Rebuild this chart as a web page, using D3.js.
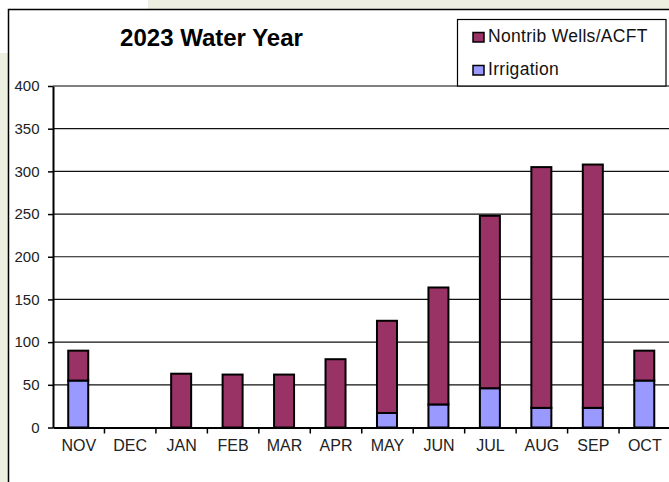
<!DOCTYPE html>
<html>
<head>
<meta charset="utf-8">
<script src="https://cdn.jsdelivr.net/npm/d3@7"></script>
<style>
  body { margin: 0; background: #fff; }
  svg { display: block; font-family: "Liberation Sans", Arial, sans-serif; }
</style>
</head>
<body>
<div id="chart"></div>
<script>
// chart data
const months = ["NOV", "DEC", "JAN", "FEB", "MAR", "APR", "MAY", "JUN", "JUL", "AUG", "SEP", "OCT"];
const irrigation = [55, 0, 0, 0, 0, 0, 17, 27, 46, 23, 23, 55];
const nontrib = [35, 0, 63, 62, 62, 80, 108, 137, 202, 282, 285, 35];
const yTicks = [0, 50, 100, 150, 200, 250, 300, 350, 400];
const seriesNames = ["Nontrib Wells/ACFT", "Irrigation"];
const seriesColors = ["#993366", "#9999FF"];

const W = 669, H = 482;
const margin = {top: 86, left: 53, right: -1.5, bottom: 54.5};

const svg = d3.select("#chart").append("svg")
  .attr("width", W)
  .attr("height", H);

// page background bits
svg.append("rect").attr("x", 0).attr("y", 0).attr("width", W).attr("height", H).attr("fill", "#fff");
svg.append("rect").attr("x", 148).attr("y", 0).attr("width", W - 148).attr("height", 9).attr("fill", "#EDEFE0");
svg.append("rect").attr("x", 0).attr("y", 53).attr("width", 8).attr("height", H - 53).attr("fill", "#EDEFE0");
// chart frame
svg.append("rect").attr("x", 8.5).attr("y", 9.5).attr("width", W).attr("height", H)
  .attr("fill", "#fff").attr("stroke", "#000").attr("stroke-width", 1.5);

const x = d3.scaleBand()
  .domain(months)
  .range([margin.left, W - margin.right])
  .paddingInner(0)
  .paddingOuter(0);

const y = d3.scaleLinear()
  .domain([0, 400])
  .range([H - margin.bottom, margin.top]);

// gridlines
svg.append("g").selectAll("line")
  .data(yTicks.filter(d => d > 0))
  .enter().append("line")
  .attr("x1", margin.left)
  .attr("x2", W)
  .attr("y1", d => y(d))
  .attr("y2", d => y(d))
  .attr("stroke", d => d === 400 ? "#808080" : "#111")
  .attr("stroke-width", d => d === 400 ? 2 : 1.2);

// stacked bars
const rows = months.map((m, i) => ({month: m, irr: irrigation[i], non: nontrib[i]}));
const stack = d3.stack().keys(["irr", "non"])(rows);
const barW = 20;

stack.forEach((layer, li) => {
  svg.append("g").selectAll("rect")
    .data(layer.filter(d => d[1] - d[0] > 0))
    .enter().append("rect")
    .attr("x", d => x(d.data.month) + x.bandwidth() / 2 - barW / 2 - 0.5)
    .attr("width", barW)
    .attr("y", d => y(d[1]))
    .attr("height", d => y(d[0]) - y(d[1]))
    .attr("fill", li === 0 ? seriesColors[1] : seriesColors[0])
    .attr("stroke", "#000")
    .attr("stroke-width", 2);
});

// y axis
const yAxis = d3.axisLeft(y).tickValues(yTicks).tickSize(5).tickSizeOuter(0);
const gy = svg.append("g")
  .attr("transform", `translate(${margin.left},0)`)
  .call(yAxis);
gy.select(".domain").attr("stroke", "#000").attr("stroke-width", 2);
gy.selectAll(".tick line").attr("stroke", "#000").attr("stroke-width", 1.5);
gy.selectAll(".tick text")
  .attr("font-size", 15)
  .attr("fill", "#222")
  .attr("x", -13.5)
  .attr("font-family", "Liberation Sans, Arial, sans-serif");

// x axis
const xAxis = d3.axisBottom(x).tickSize(0).tickSizeOuter(0);
const gx = svg.append("g")
  .attr("transform", `translate(0,${y(0)})`)
  .call(xAxis);
gx.select(".domain").attr("stroke", "#000").attr("stroke-width", 2);
gx.selectAll(".tick text")
  .attr("font-size", 16)
  .attr("fill", "#222")
  .attr("dy", 0)
  .attr("y", 23.5)
  .attr("font-family", "Liberation Sans, Arial, sans-serif");

// ticks between categories
svg.append("g").selectAll("line")
  .data(months.slice(1))
  .enter().append("line")
  .attr("x1", d => x(d))
  .attr("x2", d => x(d))
  .attr("y1", y(0))
  .attr("y2", y(0) + 6)
  .attr("stroke", "#000")
  .attr("stroke-width", 1.5);

// title
svg.append("text")
  .attr("x", 211.5)
  .attr("y", 46)
  .attr("text-anchor", "middle")
  .attr("font-size", 24)
  .attr("font-weight", "bold")
  .attr("fill", "#000")
  .text("2023 Water Year");

// legend
const lg = svg.append("g");
lg.append("rect")
  .attr("x", 457.5).attr("y", 19.5)
  .attr("width", 208.5).attr("height", 66.5)
  .attr("fill", "#fff").attr("stroke", "#000").attr("stroke-width", 1.2);

seriesNames.forEach((name, i) => {
  const base = 42 + i * 33;
  lg.append("rect")
    .attr("x", 473).attr("y", base - 9.5)
    .attr("width", 11).attr("height", 9.5)
    .attr("fill", seriesColors[i])
    .attr("stroke", "#000").attr("stroke-width", 1.5);
  lg.append("text")
    .attr("x", 488).attr("y", base)
    .attr("font-size", 17.5)
    .attr("letter-spacing", 0.3)
    .attr("fill", "#111")
    .text(name);
});
</script>
</body>
</html>
